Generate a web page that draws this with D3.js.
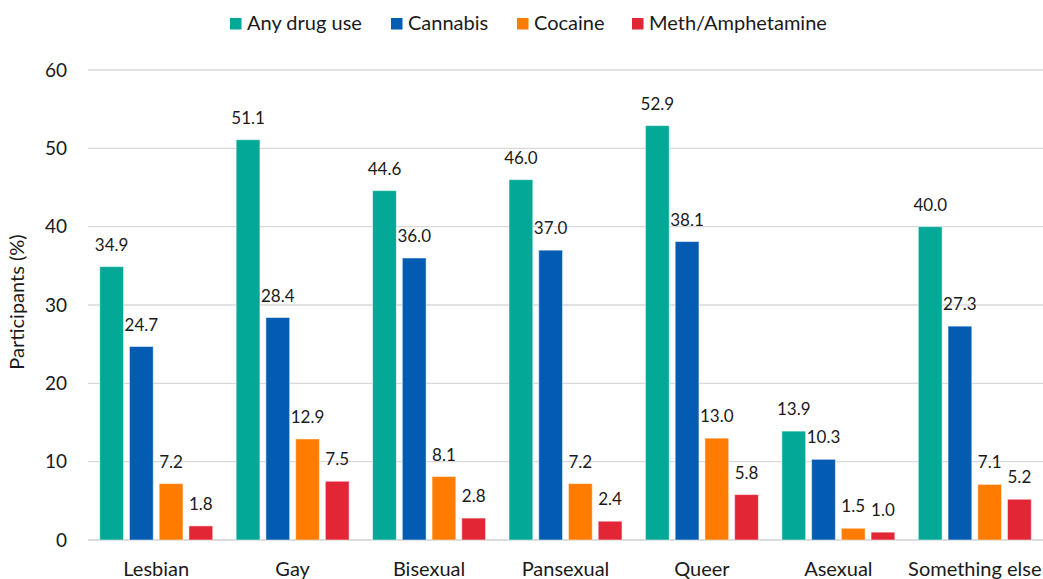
<!DOCTYPE html>
<html><head><meta charset="utf-8">
<script src="https://cdn.jsdelivr.net/npm/d3@7"></script>
<style>body{margin:0;background:#fff}svg{display:block;font-family:Lato,"Open Sans",sans-serif}</style>
</head><body><svg id="c" width="1043" height="579"></svg>
<script>
const categories = ["Lesbian","Gay","Bisexual","Pansexual","Queer","Asexual","Something else"];
const seriesNames = ["Any drug use","Cannabis","Cocaine","Meth/Amphetamine"];
const anyDrug = [34.9,51.1,44.6,46.0,52.9,13.9,40.0];
const cannabis = [24.7,28.4,36.0,37.0,38.1,10.3,27.3];
const cocaine = [7.2,12.9,8.1,7.2,13.0,1.5,7.1];
const meth = [1.8,7.5,2.8,2.4,5.8,1.0,5.2];
const yTicks = [0,10,20,30,40,50,60];
const colors = ["#03a897","#035bb2","#ff7c00","#e32636"];
const series = [anyDrug, cannabis, cocaine, meth];

const svg = d3.select("#c");
const m = {l:88, r:0, t:70, b:39};
const W = 1043, H = 579;
const x0 = d3.scaleBand().domain(categories).range([m.l, W-m.r]).paddingInner(0.172).paddingOuter(0.086);
const x1 = d3.scaleBand().domain(seriesNames).range([0, x0.bandwidth()]).paddingInner(0.2);
const y = d3.scaleLinear().domain([0,60]).range([H-m.b, m.t]);

// grid
svg.append("g").selectAll("line").data(yTicks).join("line")
  .attr("x1", m.l).attr("x2", W-m.r)
  .attr("y1", d=>y(d)).attr("y2", d=>y(d))
  .attr("stroke", d=> d===0 ? "#d0d0d0" : "#d9d9d9").attr("stroke-width", d=> d===0?1.6:1.3);

// y axis labels
const yAxis = d3.axisLeft(y).tickValues(yTicks).tickSize(0).tickPadding(0);
const ga = svg.append("g").attr("transform", `translate(67,0)`).call(yAxis);
ga.select(".domain").remove();
ga.selectAll("text").attr("font-size", 19).attr("fill", "#1a1a1a").attr("font-family","Lato,'Open Sans',sans-serif");

svg.append("text").attr("transform", `translate(24,${(y(0)+y(60))/2 - 3}) rotate(-90)`)
  .attr("text-anchor","middle").attr("font-size",20).attr("fill","#1a1a1a").text("Participants (%)");

// x labels
const xAxis = d3.axisBottom(x0).tickSize(0).tickPadding(0);
const gx = svg.append("g").attr("transform", `translate(0,${y(0)+22})`).call(xAxis);
gx.select(".domain").remove();
gx.selectAll("text").attr("font-size", 20).attr("fill","#1a1a1a").attr("font-family","Lato,'Open Sans',sans-serif");

// bars
const groups = svg.append("g").selectAll("g").data(categories).join("g")
  .attr("transform", d=>`translate(${x0(d)},0)`);
seriesNames.forEach((s, si) => {
  groups.append("rect")
    .attr("x", x1(s)).attr("width", x1.bandwidth())
    .attr("y", (d,i)=>y(series[si][i])).attr("height", (d,i)=>y(0)-y(series[si][i]))
    .attr("fill", colors[si]).attr("stroke","#ffffff").attr("stroke-opacity",0.5).attr("stroke-width",1);
  groups.append("text")
    .attr("x", x1(s)+x1.bandwidth()/2)
    .attr("y", (d,i)=>y(series[si][i]) - 16)
    .attr("text-anchor","middle").attr("font-size",17).attr("fill","#1a1a1a")
    .text((d,i)=>series[si][i].toFixed(1));
});

// legend
const legX = [230, 391, 517, 632];
const lg = svg.append("g");
seriesNames.forEach((s, i) => {
  lg.append("rect").attr("x", legX[i]).attr("y", 18).attr("width", 11.5).attr("height", 11.5).attr("fill", colors[i]);
  lg.append("text").attr("x", legX[i]+17).attr("y", 30).attr("font-size",20).attr("fill","#1a1a1a").text(s);
});
</script></body></html>
